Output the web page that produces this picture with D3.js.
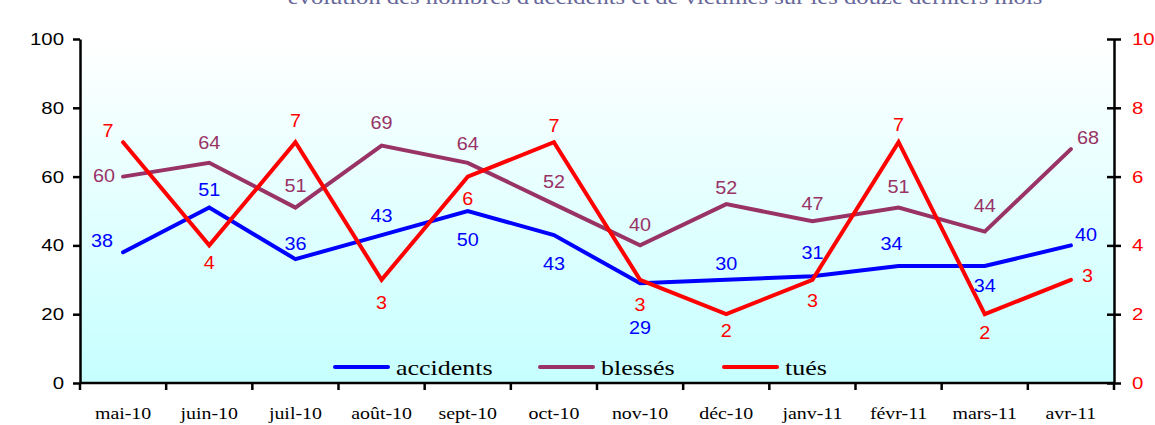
<!DOCTYPE html>
<html>
<head>
<meta charset="utf-8">
<script src="https://cdn.jsdelivr.net/npm/d3@7"></script>
<style>
  body { margin: 0; background: #fff; }
  svg { display: block; }
</style>
</head>
<body>
<svg class="chart" width="1155" height="425"></svg>
<script>
// months on the x axis
var months = ["mai-10", "juin-10", "juil-10", "août-10", "sept-10", "oct-10",
              "nov-10", "déc-10", "janv-11", "févr-11", "mars-11", "avr-11"];
// series (accidents + blessés on left axis, tués on right axis)
var accidents = [38, 51, 36, 43, 50, 43, 29, 30, 31, 34, 34, 40];
var blesses   = [60, 64, 51, 69, 64, 52, 40, 52, 47, 51, 44, 68];
var tues      = [7, 4, 7, 3, 6, 7, 3, 2, 3, 7, 2, 3];
var leftTicks  = [0, 20, 40, 60, 80, 100];
var rightTicks = [0, 2, 4, 6, 8, 10];

// label placement relative to each point (layout only): [dx, dy, anchor]
var accLab = [[-10, -5, "end"], [0, -12, "middle"], [0, -9, "middle"], [0, -13, "middle"],
              [0, 35, "middle"], [0, 35, "middle"], [0, 51, "middle"], [0, -10, "middle"],
              [0, -17, "middle"], [-7, -16, "middle"], [0, 26, "middle"], [4, -4, "start"]];
var bleLab = [[-8, 5, "end"], [0, -14, "middle"], [0, -16, "middle"], [0, -17, "middle"],
              [0, -13, "middle"], [0, -16, "middle"], [0, -14, "middle"], [0, -10, "middle"],
              [0, -11, "middle"], [0, -15, "middle"], [0, -20, "middle"], [6, -5, "start"]];
var tueLab = [[-15, -5, "middle"], [0, 24, "middle"], [0, -15, "middle"], [0, 29, "middle"],
              [0, 28, "middle"], [0, -10, "middle"], [0, 31, "middle"], [0, 23, "middle"],
              [0, 27, "middle"], [0, -11, "middle"], [0, 25, "middle"], [11, 2, "start"]];

var svg = d3.select(".chart");
var plotL = 80, plotR = 1114, plotT = 39, plotB = 383;
var SANS = "Liberation Sans, Arial, sans-serif";
var SERIF = "Liberation Serif, Times New Roman, serif";

var x = d3.scaleBand().domain(months).range([plotL, plotR]);
var yL = d3.scaleLinear().domain([0, 100]).range([plotB, plotT]);
var yR = d3.scaleLinear().domain([0, 10]).range([plotB, plotT]);
var cx = (m) => x(m) + x.bandwidth() / 2;

// the source renders text a bit wide, so stretch it horizontally
function stretch(sel, sx) {
  sel.each(function () {
    var t = d3.select(this);
    var tx = +t.attr("x") || 0, ty = +t.attr("y") || 0;
    t.attr("x", 0).attr("y", 0)
     .attr("transform", "translate(" + tx + "," + ty + ") scale(" + sx + ",1)");
  });
}

// background gradient
var grad = svg.append("defs").append("linearGradient")
    .attr("id", "bg").attr("x1", 0).attr("y1", 0).attr("x2", 0).attr("y2", 1);
grad.append("stop").attr("offset", "0%").attr("stop-color", "#ffffff");
grad.append("stop").attr("offset", "100%").attr("stop-color", "#c6ffff");

svg.append("rect")
    .attr("x", plotL).attr("y", plotT)
    .attr("width", plotR - plotL).attr("height", plotB - plotT)
    .attr("fill", "url(#bg)");

// title (mostly cut off at the top, like the source)
svg.append("text")
    .attr("x", 665).attr("y", 4)
    .attr("text-anchor", "middle")
    .style("font-family", SERIF)
    .style("font-size", "22px")
    .attr("fill", "#666699")
    .text("évolution des nombres d'accidents et de victimes sur les douze derniers mois")
    .call(stretch, 1.12);

// axes
var axL = svg.append("g").attr("transform", "translate(" + plotL + ",0)")
    .call(d3.axisLeft(yL).tickValues(leftTicks).tickSize(7).tickSizeOuter(0).tickPadding(9));
var axR = svg.append("g").attr("transform", "translate(" + plotR + ",0)")
    .call(d3.axisRight(yR).tickValues(rightTicks).tickSize(7).tickSizeOuter(0).tickPadding(11));

[axL, axR].forEach(function (g) {
  g.select(".domain").attr("stroke", "#000").attr("stroke-width", 2.5);
  g.selectAll(".tick line").attr("stroke", "#000").attr("stroke-width", 2.5);
  g.selectAll(".tick text")
    .style("font-family", SANS)
    .style("font-size", "17px")
    .call(stretch, 1.2);
});
axL.selectAll(".tick text").attr("fill", "#000");
axR.selectAll(".tick text").attr("fill", "#ff0000");
// cross ticks on the right axis
axR.selectAll(".tick line").attr("x1", -7);

// x axis line + ticks at band edges
svg.append("line")
    .attr("x1", plotL).attr("x2", plotR)
    .attr("y1", plotB).attr("y2", plotB)
    .attr("stroke", "#000").attr("stroke-width", 2.5);

var edges = months.map((m) => x(m)).concat([plotR]);
svg.append("g").selectAll("line").data(edges).enter().append("line")
    .attr("x1", (d) => d).attr("x2", (d) => d)
    .attr("y1", plotB).attr("y2", plotB + 7)
    .attr("stroke", "#000").attr("stroke-width", 2.5);

svg.append("g").selectAll("text").data(months).enter().append("text")
    .attr("x", (d) => cx(d))
    .attr("y", 419)
    .attr("text-anchor", "middle")
    .style("font-family", SERIF)
    .style("font-size", "17px")
    .attr("fill", "#000")
    .text((d) => d)
    .call(stretch, 1.17);

// series lines + labels
var series = [
  { name: "accidents", vals: accidents, y: yL, color: "#0000ff", lab: accLab },
  { name: "blessés", vals: blesses, y: yL, color: "#993366", lab: bleLab },
  { name: "tués", vals: tues, y: yR, color: "#ff0000", lab: tueLab }
];

series.forEach(function (s) {
  var line = d3.line()
      .x((d, i) => cx(months[i]))
      .y((d) => s.y(d));
  svg.append("path")
      .datum(s.vals)
      .attr("d", line)
      .attr("fill", "none")
      .attr("stroke", s.color)
      .attr("stroke-width", 4)
      .attr("stroke-linejoin", "miter")
      .attr("stroke-linecap", "round");
});

series.forEach(function (s) {
  svg.append("g").selectAll("text").data(s.vals).enter().append("text")
      .attr("x", (d, i) => cx(months[i]) + s.lab[i][0])
      .attr("y", (d, i) => s.y(d) + s.lab[i][1])
      .attr("text-anchor", (d, i) => s.lab[i][2])
      .style("font-family", SANS)
      .style("font-size", "18px")
      .attr("fill", s.color)
      .text((d) => d)
      .call(stretch, 1.1);
});

// legend inside the plot, bottom
var legX = [335, 540, 724];
var leg = svg.append("g").selectAll("g").data(series).enter().append("g")
    .attr("transform", (d, i) => "translate(" + legX[i] + ",367)");
leg.append("line")
    .attr("x1", 0).attr("x2", 53)
    .attr("stroke", (d) => d.color)
    .attr("stroke-width", 4)
    .attr("stroke-linecap", "round");
leg.append("text")
    .attr("x", 61).attr("y", 8)
    .style("font-family", SERIF)
    .style("font-size", "22px")
    .attr("fill", "#000")
    .text((d) => d.name)
    .call(stretch, 1.18);
</script>
</body>
</html>
